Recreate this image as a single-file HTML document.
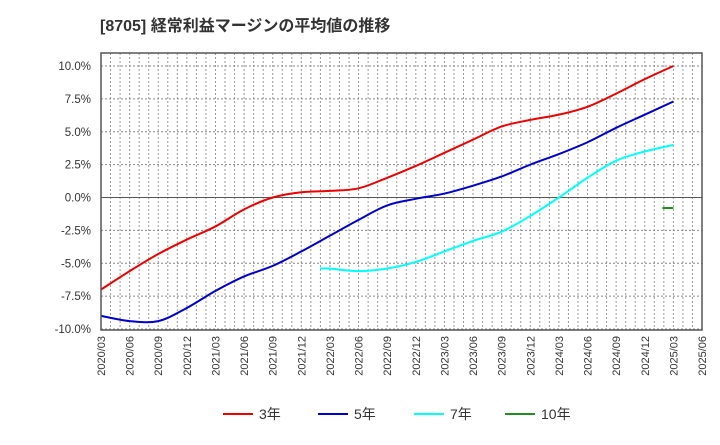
<!DOCTYPE html>
<html><head><meta charset="utf-8"><style>
body{margin:0;background:#fff;font-family:"Liberation Sans","Noto Sans CJK JP",sans-serif}
</style></head><body>
<svg id="c" width="720" height="440" xmlns="http://www.w3.org/2000/svg">
<text x="100" y="31" font-size="16" font-weight="bold" fill="#333" font-family="Liberation Sans,Noto Sans CJK JP,sans-serif">[8705]  経常利益マージンの平均値の推移</text>
<g id="grid"></g><g id="series"></g><g id="axes"></g><g id="legend"></g>
</svg>
<script>
const xLabels=["2020/03","2020/06","2020/09","2020/12","2021/03","2021/06","2021/09","2021/12","2022/03","2022/06","2022/09","2022/12","2023/03","2023/06","2023/09","2023/12","2024/03","2024/06","2024/09","2024/12","2025/03","2025/06"];
const yTicks=[10,7.5,5,2.5,0,-2.5,-5,-7.5,-10];
const s3=[-7.0,-5.6,-4.3,-3.2,-2.2,-0.9,0.0,0.4,0.5,0.7,1.5,2.4,3.4,4.4,5.4,5.9,6.3,6.9,7.9,9.0,10.0];
const s5=[-9.0,-9.4,-9.4,-8.4,-7.1,-6.0,-5.2,-4.1,-2.9,-1.7,-0.6,-0.1,0.3,0.9,1.6,2.5,3.3,4.2,5.3,6.3,7.3];
const s7=[null,null,null,null,null,null,null,null,-5.4,-5.6,-5.4,-4.9,-4.1,-3.3,-2.6,-1.4,0.0,1.5,2.8,3.5,4.0];
const s10=[null,null,null,null,null,null,null,null,null,null,null,null,null,null,null,null,null,null,null,null,-0.8];
const L=101,R=702,T=53,B=330;
const X=i=>L+i*(R-L)/21;
const Y=v=>197.5-v*13.15;
const NS="http://www.w3.org/2000/svg";
function mk(p,t,a){const e=document.createElementNS(NS,t);for(const k in a)e.setAttribute(k,a[k]);p.appendChild(e);return e;}
const g=document.getElementById('grid'),ax=document.getElementById('axes'),se=document.getElementById('series'),lg=document.getElementById('legend');
for(let m=1;m<63;m++){const x=L+m*(R-L)/63;const l=mk(g,'line',{x1:x,x2:x,y1:T,y2:B,stroke:'#999','stroke-dasharray':'2,2','stroke-width':1});

}
yTicks.forEach(v=>{const y=Y(v);const l=mk(g,'line',{x1:L,x2:R,y1:y,y2:y,stroke:v===0?'#555':'#888','stroke-dasharray':v===0?'none':'2,2','stroke-width':1});


const t=mk(ax,'text',{x:91,y:y+4,'text-anchor':'end','font-size':11.5,fill:'#333'});t.textContent=v.toFixed(1)+'%';

});
const f=mk(ax,'rect',{x:L,y:T,width:R-L,height:B-T,fill:'none',stroke:'#555','stroke-width':1.5});


xLabels.forEach((s,i)=>{const x=X(i)+4;const t=mk(ax,'text',{x:x,y:336,'text-anchor':'end','font-size':11,fill:'#333',transform:`rotate(-90 ${x} 336)`});t.textContent=s;

});
function path(arr){const p=[];arr.forEach((v,i)=>{if(v!==null)p.push([X(i),Y(v)]);});
if(p.length<2)return null;let d=`M${p[0][0]-10},${p[0][1]}`;
d+=` L${p[0][0]},${p[0][1]}`;
if(arr[0]!==null)d=`M${p[0][0]},${p[0][1]}`;
for(let i=0;i<p.length-1;i++){const p0=p[i-1]||p[i],p1=p[i],p2=p[i+1],p3=p[i+2]||p2;
d+=` C${p1[0]+(p2[0]-p0[0])/6},${p1[1]+(p2[1]-p0[1])/6} ${p2[0]-(p3[0]-p1[0])/6},${p2[1]-(p3[1]-p1[1])/6} ${p2[0]},${p2[1]}`;}return d;}
const series=[[s3,'#e00','3年','series-3yr'],[s5,'#00c','5年','series-5yr'],[s7,'#0ff','7年','series-7yr'],[s10,'#228b22','10年','series-10yr']];
series.forEach(([a,c,n,id])=>{const d=path(a);let e;
if(d){e=mk(se,'path',{d:d,fill:'none',stroke:c,'stroke-width':2});}
else{const i=a.findIndex(v=>v!==null);e=mk(se,'line',{x1:X(i)-11,x2:X(i),y1:Y(a[i]),y2:Y(a[i]),stroke:c,'stroke-width':2});}

});
const lx=[223,318,414,505];
series.forEach(([a,c,n,id],k)=>{const l=mk(lg,'line',{x1:lx[k],x2:lx[k]+30,y1:414,y2:414,stroke:c,'stroke-width':2});


const t=mk(lg,'text',{x:lx[k]+36,y:419,'font-size':14,fill:'#333'});t.textContent=n;

});
</script>
</body></html>
